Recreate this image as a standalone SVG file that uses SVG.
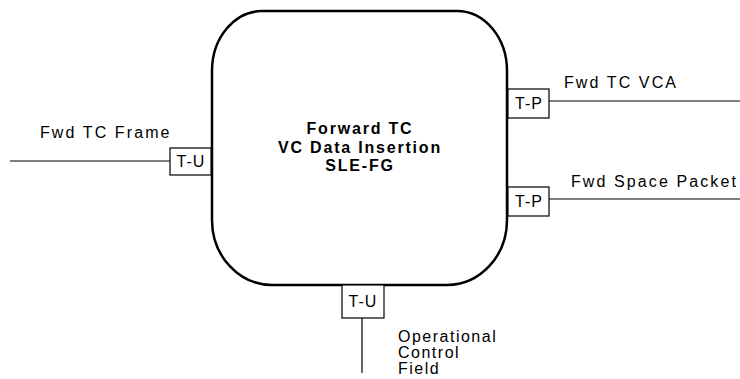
<svg xmlns="http://www.w3.org/2000/svg" width="740" height="379" viewBox="0 0 740 379">
<style>
text{font-family:"Liberation Sans",Arial,sans-serif;font-size:16px;fill:#000;letter-spacing:2.1px}
.t{text-anchor:middle;letter-spacing:1px}
.b{font-weight:bold;text-anchor:middle;letter-spacing:1.8px}
.o{letter-spacing:1.5px}
.port{fill:#fff;stroke:#000;stroke-width:1.2}
.ln{stroke:#000;stroke-width:1.2;fill:none}
</style>
<rect width="740" height="379" fill="#fff"/>
<g id="connectors">
<line class="ln" x1="10" y1="161" x2="170" y2="161"/>
<line class="ln" x1="549" y1="101" x2="740" y2="101"/>
<line class="ln" x1="549" y1="199" x2="740" y2="199"/>
<line class="ln" x1="362" y1="318" x2="362" y2="373"/>
</g>
<g id="sle-fg">
<path d="M 261 11 H 457 A 50 60 0 0 1 507 71 V 220 A 60 65 0 0 1 447 285 H 272 A 60 65 0 0 1 212 220 V 71 A 50 60 0 0 1 261 11 Z" fill="#fff" stroke="#000" stroke-width="2.5"/>
<text class="b" x="360" y="134">Forward TC</text>
<text class="b" x="360" y="152.5">VC Data Insertion</text>
<text class="b" x="360" y="171">SLE-FG</text>
</g>
<g id="port-left">
<rect class="port" x="170" y="148" width="41" height="27"/>
<text class="t" x="191" y="167">T-U</text>
</g>
<g id="port-right-top">
<rect class="port" x="508" y="89" width="41" height="29"/>
<text class="t" x="529" y="109">T-P</text>
</g>
<g id="port-right-bottom">
<rect class="port" x="508" y="187" width="41" height="29"/>
<text class="t" x="529" y="207">T-P</text>
</g>
<g id="port-bottom">
<rect class="port" x="342" y="285" width="42" height="33"/>
<text class="t" x="363" y="307">T-U</text>
</g>
<g id="labels">
<text x="40" y="137.5">Fwd TC Frame</text>
<text x="564" y="88">Fwd TC VCA</text>
<text x="571" y="187">Fwd Space Packet</text>
<text class="o" x="398" y="342">Operational</text>
<text class="o" x="398" y="357.5">Control</text>
<text class="o" x="398" y="373.5">Field</text>
</g>
</svg>
